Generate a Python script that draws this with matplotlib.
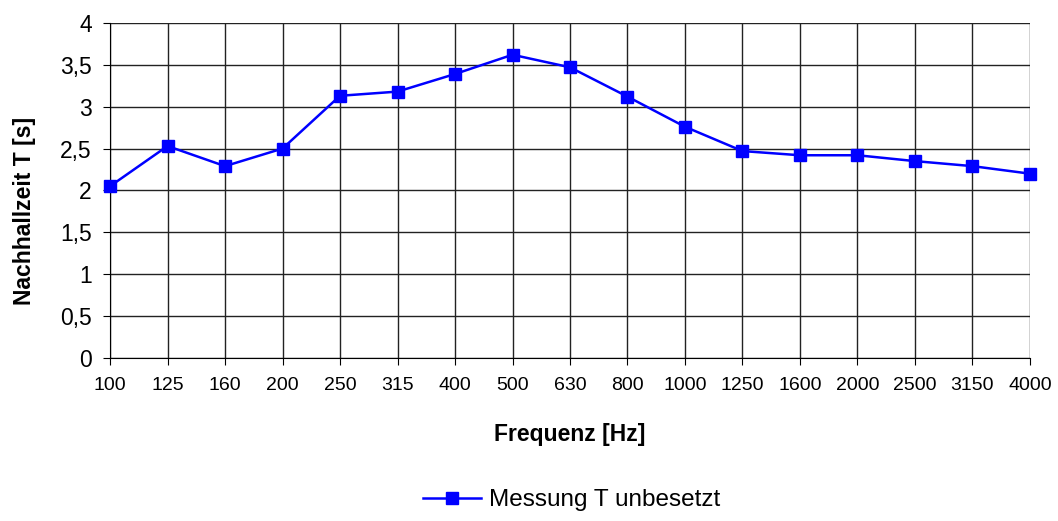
import matplotlib
matplotlib.use("Agg")
import matplotlib.pyplot as plt
import numpy as np

plt.rcParams['font.family'] = ['Liberation Sans', 'DejaVu Sans']

## Data
freqs = ["100", "125", "160", "200", "250", "315", "400", "500", "630",
         "800", "1000", "1250", "1600", "2000", "2500", "3150", "4000"]
t_unbesetzt = [2.05, 2.53, 2.29, 2.50, 3.13, 3.18, 3.39, 3.62, 3.47,
               3.12, 2.76, 2.47, 2.42, 2.42, 2.35, 2.29, 2.20]
y_ticks = [0, 0.5, 1, 1.5, 2, 2.5, 3, 3.5, 4]
y_labels = ["0", "0,5", "1", "1,5", "2", "2,5", "3", "3,5", "4"]

fig = plt.figure(figsize=(10.58, 5.21), dpi=100)
ax = fig.add_axes([0.104, 0.313, 0.8695, 0.643])

x = np.arange(len(freqs))
ax.plot(x, t_unbesetzt, color='#0000ff', linewidth=1.8, marker='s',
        markersize=8, label='Messung T unbesetzt', zorder=3, clip_on=False)

ax.set_xlim(0, len(freqs) - 1)
ax.set_ylim(0, 4)
ax.set_xticks(x)
ax.set_xticklabels(freqs, fontsize=14)
ax.set_yticks(y_ticks)
ax.set_yticklabels(y_labels, fontsize=16.5)
ax.grid(True, color='#222222', linewidth=1)
ax.set_axisbelow(True)

for s in ['top', 'right']:
    ax.spines[s].set_visible(False)
ax.spines['left'].set_color('black')
ax.spines['bottom'].set_color('black')
ax.tick_params(axis='both', direction='out', length=5, color='black')
ax.tick_params(axis='x', pad=9)
ax.tick_params(axis='y', pad=8)

ax.set_xlabel('Frequenz [Hz]', fontsize=16.5, fontweight='bold')
ax.set_ylabel('Nachhallzeit T [s]', fontsize=16.5, fontweight='bold')
ax.xaxis.set_label_coords(0.5, -0.195)
ax.yaxis.set_label_coords(-0.081, 0.44)

fig.legend(loc='center', bbox_to_anchor=(0.54, 0.04), frameon=False,
           fontsize=17.5, handlelength=2.4, handletextpad=0.3)

fig.savefig('out.png', dpi=100)
